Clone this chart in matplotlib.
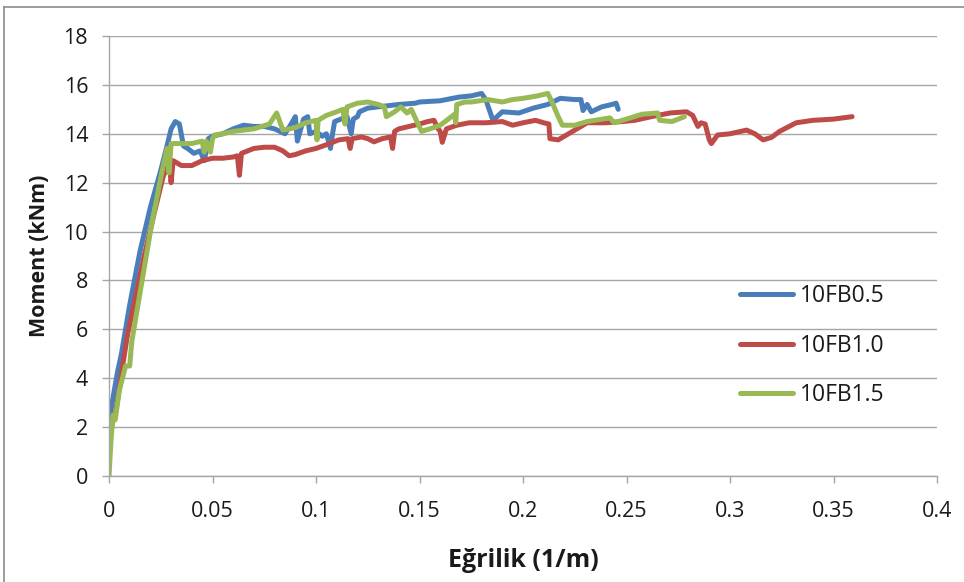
import matplotlib
matplotlib.use("Agg")
import matplotlib.pyplot as plt
from matplotlib.lines import Line2D

plt.rcParams['font.family'] = ['Open Sans', 'DejaVu Sans']

# ---- data ----
x_fb05 = [0, 0.0005, 0.0015, 0.004, 0.006, 0.010, 0.015, 0.020, 0.025, 0.028,
          0.030, 0.032, 0.034, 0.036, 0.038, 0.041, 0.044, 0.046, 0.047, 0.048,
          0.050, 0.055, 0.060, 0.065, 0.070, 0.075, 0.080, 0.085, 0.088, 0.090,
          0.091, 0.094, 0.096, 0.097, 0.100, 0.103, 0.105, 0.107, 0.108, 0.109,
          0.112, 0.115, 0.117, 0.118, 0.120, 0.121, 0.125, 0.130, 0.140, 0.148,
          0.150, 0.160, 0.169, 0.175, 0.180, 0.182, 0.1855, 0.190, 0.198, 0.205,
          0.212, 0.218, 0.225, 0.228, 0.229, 0.231, 0.233, 0.238, 0.243, 0.245, 0.246]
y_fb05 = [1.5, 2.5, 3.0, 4.2, 5.0, 7.0, 9.2, 11.0, 12.5, 13.5,
          14.2, 14.5, 14.4, 13.5, 13.4, 13.2, 13.3, 12.9, 13.3, 13.8,
          13.9, 14.0, 14.2, 14.35, 14.3, 14.3, 14.2, 14.0, 14.4, 14.7,
          13.7, 14.6, 14.7, 14.0, 14.1, 13.9, 14.0, 13.4, 14.0, 14.5,
          14.6, 14.7, 14.0, 14.6, 14.7, 14.9, 15.05, 15.1, 15.2, 15.25,
          15.3, 15.35, 15.5, 15.55, 15.65, 15.4, 14.55, 14.9, 14.85, 15.05,
          15.2, 15.45, 15.4, 15.4, 14.95, 15.2, 14.9, 15.1, 15.2, 15.25, 15.0]

x_fb10 = [0, 0.001, 0.003, 0.006, 0.009, 0.012, 0.017, 0.022, 0.026, 0.029,
          0.030, 0.031, 0.033, 0.035, 0.040, 0.045, 0.050, 0.055, 0.060, 0.062,
          0.063, 0.064, 0.067, 0.070, 0.075, 0.080, 0.084, 0.087, 0.090, 0.095,
          0.100, 0.105, 0.111, 0.1155, 0.1165, 0.1175, 0.122, 0.125, 0.128, 0.132,
          0.136, 0.137, 0.138, 0.140, 0.145, 0.150, 0.154, 0.157, 0.159, 0.160,
          0.161, 0.163, 0.168, 0.174, 0.182, 0.190, 0.195, 0.200, 0.206, 0.210,
          0.2125, 0.213, 0.217, 0.223, 0.231, 0.240, 0.248, 0.254, 0.262, 0.271,
          0.279, 0.282, 0.2845, 0.286, 0.288, 0.290, 0.291, 0.294, 0.300, 0.308,
          0.312, 0.316, 0.320, 0.324, 0.332, 0.340, 0.350, 0.359]
y_fb10 = [0.5, 2.0, 2.5, 4.2, 5.8, 7.0, 9.0, 10.8, 12.2, 12.9,
          12.0, 12.9, 12.8, 12.7, 12.7, 12.9, 13.0, 13.0, 13.05, 13.1,
          12.3, 13.2, 13.3, 13.4, 13.45, 13.45, 13.3, 13.1, 13.15, 13.3,
          13.4, 13.55, 13.75, 13.8, 13.4, 13.8, 13.87, 13.8, 13.67, 13.8,
          13.87, 13.4, 14.1, 14.2, 14.3, 14.4, 14.5, 14.55, 14.2, 14.1,
          13.65, 14.2, 14.35, 14.45, 14.45, 14.5, 14.35, 14.45, 14.55, 14.45,
          14.4, 13.8, 13.75, 14.05, 14.45, 14.45, 14.5, 14.55, 14.7, 14.85,
          14.9, 14.75, 14.3, 14.45, 14.4, 13.75, 13.6, 13.95, 14.0, 14.15,
          14.0, 13.75, 13.85, 14.1, 14.45, 14.55, 14.6, 14.7]

x_fb15 = [0, 0.001, 0.002, 0.003, 0.005, 0.008, 0.010, 0.011, 0.015, 0.020,
          0.025, 0.028, 0.029, 0.030, 0.035, 0.040, 0.045, 0.046, 0.047, 0.049,
          0.050, 0.051, 0.055, 0.060, 0.065, 0.070, 0.0775, 0.081, 0.084, 0.090,
          0.095, 0.100, 0.1005, 0.101, 0.105, 0.110, 0.113, 0.114, 0.115, 0.120,
          0.125, 0.130, 0.133, 0.134, 0.138, 0.141, 0.144, 0.146, 0.151, 0.155,
          0.160, 0.167, 0.1675, 0.168, 0.172, 0.175, 0.183, 0.190, 0.195, 0.200,
          0.207, 0.212, 0.214, 0.217, 0.219, 0.225, 0.231, 0.242, 0.244, 0.250,
          0.2575, 0.265, 0.266, 0.272, 0.278]
y_fb15 = [0.0, 1.5, 2.5, 2.3, 3.5, 4.5, 4.5, 5.5, 7.5, 10.0,
          12.2, 13.4, 12.4, 13.6, 13.6, 13.6, 13.7, 13.25, 13.7, 13.25,
          13.8, 13.95, 14.0, 14.1, 14.15, 14.2, 14.4, 14.85, 14.15, 14.25,
          14.45, 14.55, 13.75, 14.55, 14.75, 14.9, 15.0, 14.4, 15.1, 15.25,
          15.3, 15.2, 15.1, 14.7, 14.9, 15.1, 14.85, 15.0, 14.1, 14.2,
          14.35, 14.8, 14.45, 15.2, 15.3, 15.3, 15.4, 15.3, 15.4, 15.45,
          15.55, 15.65, 15.3, 14.7, 14.35, 14.35, 14.5, 14.65, 14.45, 14.6,
          14.8, 14.85, 14.55, 14.5, 14.7]

series_names = ['10FB0.5', '10FB1.0', '10FB1.5']
x_ticks = [0, 0.05, 0.1, 0.15, 0.2, 0.25, 0.3, 0.35, 0.4]
x_tick_labels = ['0', '0.05', '0.1', '0.15', '0.2', '0.25', '0.3', '0.35', '0.4']
y_ticks = [0, 2, 4, 6, 8, 10, 12, 14, 16, 18]

colors = ['#4a7ebb', '#be4b48', '#98b954']

W, H = 964, 582
fig = plt.figure(figsize=(W / 100, H / 100), dpi=100)
ax = fig.add_axes([109 / W, 1 - 476 / H, (937 - 109) / W, (476 - 36) / H])

for xs, ys, c, name in zip([x_fb05, x_fb10, x_fb15], [y_fb05, y_fb10, y_fb15],
                           colors, series_names):
    ax.plot(xs, ys, color=c, lw=3.6, label=name, solid_joinstyle='round',
            solid_capstyle='round')

ax.set_xlim(0, 0.4)
ax.set_ylim(0, 18)
ax.set_xticks(x_ticks)
ax.set_xticklabels(x_tick_labels)
ax.set_yticks(y_ticks)
ax.yaxis.grid(True, color='#a6a6a6', lw=1.0)
ax.set_axisbelow(True)
for s in ['top', 'right']:
    ax.spines[s].set_visible(False)
for s in ['left', 'bottom']:
    ax.spines[s].set_color('#a6a6a6')
    ax.spines[s].set_linewidth(1.0)
ax.tick_params(axis='both', direction='out', length=5, color='#a6a6a6',
               labelsize=15.5, labelcolor='#1a1a1a', width=1.0)
ax.tick_params(axis='x', pad=13)
ax.tick_params(axis='y', pad=10)

ax.set_xlabel('Eğrilik (1/m)', fontsize=18, fontweight='bold', labelpad=19,
              color='#1a1a1a')
ax.set_ylabel('Moment (kNm)', fontsize=15.5, fontweight='bold', labelpad=10,
              color='#1a1a1a')

leg = ax.legend(loc='upper left', bbox_to_anchor=(0.762, 0.436), frameon=False,
                fontsize=16.5, handlelength=2.3, labelspacing=1.12,
                handletextpad=0.3, borderaxespad=0, borderpad=0)
for t in leg.get_texts():
    t.set_color('#1a1a1a')

# outer chart-area border (left and top edges visible in the reference)
fig.add_artist(Line2D([4 / W, 4 / W], [0, 1 - 7 / H], transform=fig.transFigure,
                      color='#8c8c8c', lw=1.2))
fig.add_artist(Line2D([4 / W, 1], [1 - 7 / H, 1 - 7 / H], transform=fig.transFigure,
                      color='#8c8c8c', lw=1.2))

fig.savefig('out.png', dpi=100)
